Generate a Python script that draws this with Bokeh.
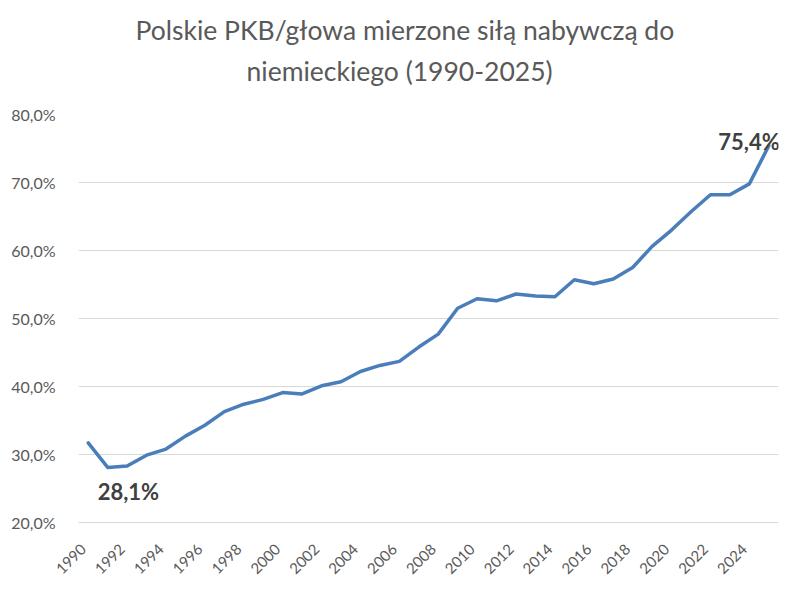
from bokeh.plotting import figure
from bokeh.models import Range1d, FixedTicker, Title, LinearAxis
from bokeh.embed import file_html
from bokeh.resources import INLINE
from bokeh.core.properties import value

# data (share of German GDP per capita, PPP, in %)
years = list(range(1990, 2026))
pkb_share = [31.7, 28.1, 28.3, 29.9, 30.8, 32.7, 34.3, 36.3, 37.4, 38.1,
             39.1, 38.9, 40.1, 40.7, 42.2, 43.1, 43.7, 45.8, 47.7, 51.5,
             52.9, 52.6, 53.6, 53.3, 53.2, 55.7, 55.1, 55.8, 57.5, 60.6,
             63.0, 65.7, 68.2, 68.2, 69.8, 75.4]
x_ticks = list(range(1990, 2025, 2))
y_ticks = [20, 30, 40, 50, 60, 70, 80]
y_tick_labels = ["20,0%", "30,0%", "40,0%", "50,0%", "60,0%", "70,0%", "80,0%"]
min_year, min_label = 1991, "28,1%"
last_year, last_label = 2025, "75,4%"

title_line1 = "Polskie PKB/głowa mierzone siłą nabywczą do"
title_line2 = "niemieckiego (1990-2025)"

FONT = "Lato"
GREY = "#595959"

p = figure(
    width=791, height=581,
    x_range=Range1d(1989.5, 2025.5),
    y_range=Range1d(20, 80),
    x_axis_type=None,
    output_backend="svg",
    toolbar_location=None,
    min_border_left=78, min_border_right=13,
    min_border_top=114, min_border_bottom=54,
)
p.outline_line_color = None

# title: extra titles sit between p.title and the plot; the standoffs
# squeeze the two lines together like a wrapped Excel title
p.title.text = title_line1
p.title.align = "left"
p.title.offset = 57
p.title.standoff = -33
p.title.text_font = FONT
p.title.text_font_size = "26.5px"
p.title.text_font_style = "normal"
p.title.text_color = GREY
p.add_layout(Title(text=title_line2, align="left", offset=168, standoff=51,
                   vertical_align="top",
                   text_font=FONT, text_font_size="26.5px",
                   text_font_style="normal", text_color=GREY), "above")

# year axis reads a range shifted by a quarter year so the slanted
# labels end at their year like in Excel
p.extra_x_ranges = {"years": Range1d(1989.5 + 0.26, 2025.5 + 0.26)}
xaxis = LinearAxis(x_range_name="years", ticker=FixedTicker(ticks=x_ticks))
xaxis.major_label_orientation = 0.785398
xaxis.major_label_text_align = "right"
xaxis.major_label_text_baseline = "middle"
xaxis.axis_line_color = "#d9d9d9"
xaxis.major_label_text_font_size = "15px"
xaxis.major_label_standoff = 18
p.add_layout(xaxis, "below")

p.yaxis.ticker = FixedTicker(ticks=y_ticks)
p.yaxis.major_label_overrides = dict(zip(y_ticks, y_tick_labels))
p.yaxis.axis_line_color = None
p.yaxis.major_label_text_font_size = "16px"
p.yaxis.major_label_standoff = 17
for ax in (xaxis, p.yaxis[0]):
    ax.major_tick_line_color = None
    ax.minor_tick_line_color = None
    ax.major_label_text_font = FONT
    ax.major_label_text_color = GREY

p.ygrid.grid_line_color = "#d9d9d9"
p.ygrid.grid_line_width = 1

p.line(years, pkb_share, line_color="#4a7ebb", line_width=3.5,
       line_join="round", line_cap="round")

p.text([min_year], [pkb_share[years.index(min_year)]], text=[min_label],
       text_font=value(FONT), text_font_size="22px", text_font_style="bold",
       text_color="#404040", text_align="left", text_baseline="alphabetic",
       x_offset=-10, y_offset=24)
p.text([last_year], [pkb_share[years.index(last_year)]], text=[last_label],
       text_font=value(FONT), text_font_size="22px", text_font_style="bold",
       text_color="#404040", text_align="right", text_baseline="alphabetic",
       x_offset=11, y_offset=-4)

open("out.html", "w").write(file_html(p, INLINE))
